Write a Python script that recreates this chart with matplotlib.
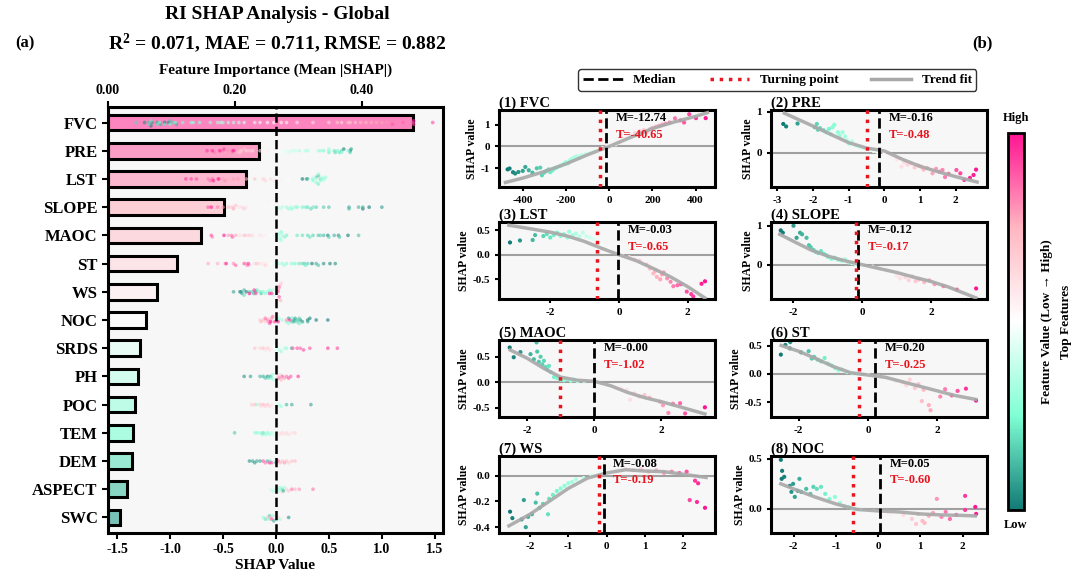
import numpy as np
import matplotlib
matplotlib.use('Agg')
import matplotlib.pyplot as plt
from matplotlib.colors import LinearSegmentedColormap, Normalize
from matplotlib.cm import ScalarMappable
from matplotlib.lines import Line2D

plt.rcParams['font.family'] = ['Liberation Serif', 'DejaVu Serif']
plt.rcParams['font.weight'] = 'bold'
plt.rcParams['axes.titleweight'] = 'bold'
plt.rcParams['axes.labelweight'] = 'bold'
plt.rcParams['axes.unicode_minus'] = False
plt.rcParams['mathtext.fontset'] = 'custom'
plt.rcParams['mathtext.bf'] = 'Liberation Serif:bold'
plt.rcParams['mathtext.rm'] = 'Liberation Serif:bold'
plt.rcParams['mathtext.default'] = 'bf'

# ---- data ----
features = ['FVC', 'PRE', 'LST', 'SLOPE', 'MAOC', 'ST', 'WS', 'NOC',
            'SRDS', 'PH', 'POC', 'TEM', 'DEM', 'ASPECT', 'SWC']
importance = [0.480, 0.238, 0.217, 0.183, 0.146, 0.109, 0.077, 0.060,
              0.050, 0.047, 0.042, 0.040, 0.038, 0.030, 0.019]

# dependence data for the top 8 features (feature value, SHAP value)
fvc_x = [-470, -461, -445, -435, -420, -400, -388, -372, -355, -335, -319, -311,
         -300, -290, -280, -273, -262, -250, -240, -225, -210, -200, -190, -180,
         -170, -160, -150, -140, -130, -110, -90, -70, -50, -30, -10, 10, 30, 50,
         80, 100, 120, 140, 150, 160, 175, 190, 200, 215, 230, 245, 260,
         280, 305, 330, 347, 371, 402, 447]
fvc_shap = [-1.05, -1.01, -1.18, -1.24, -1.17, -1.12, -0.94, -1.09, -1.20, -1.00, -0.97, -1.32,
            -1.20, -1.12, -1.05, -1.18, -1.10, -1.00, -0.95, -0.88, -0.80, -0.72, -0.78, -0.62,
            -0.55, -0.50, -0.45, -0.52, -0.40, -0.35, -0.30, -0.20, -0.15, -0.08, -0.02, 0.05, 0.10, 0.20,
            0.35, 0.50, 0.62, 0.70, 0.58, 0.75, 0.68, 0.80, 0.85, 0.90, 0.95, 1.00, 1.05,
            1.10, 1.29, 1.20, 1.10, 1.48, 1.30, 1.30]
fvc_trend_x = [-480, -400, -300, -200, -100, 0, 100, 200, 300, 400, 455]
fvc_trend_y = [-1.65, -1.45, -1.15, -0.80, -0.38, 0.0, 0.42, 0.82, 1.12, 1.38, 1.55]

pre_x = [-2.83, -2.75, -2.43, -1.95, -1.89, -1.86, -1.80, -1.70, -1.62, -1.55, -1.50, -1.45,
         -1.40, -1.30, -1.25, -1.17, -1.10, -1.05, -0.99, -0.90, -0.80, -0.70, -0.60, -0.50,
         -0.40, -0.30, -0.20, 0.00, 0.20, 0.35, 0.48, 0.55, 0.65, 0.75, 0.85, 0.95, 1.03,
         1.10, 1.20, 1.35, 1.45, 1.55, 1.63, 1.70, 1.80, 2.02, 2.13, 2.24, 2.40, 2.50, 2.57]
pre_shap = [0.70, 0.64, 0.71, 0.62, 0.70, 0.56, 0.60, 0.55, 0.50, 0.58, 0.45, 0.62,
            0.68, 0.50, 0.42, 0.50, 0.40, 0.30, 0.22, 0.28, 0.18, 0.15, 0.12, 0.10,
            0.08, 0.05, 0.03, 0.00, -0.08, -0.15, -0.33, -0.22, -0.28, -0.25, -0.35, -0.30, -0.33,
            -0.40, -0.36, -0.49, -0.38, -0.45, -0.41, -0.58, -0.50, -0.41, -0.49, -0.65, -0.60, -0.53, -0.40]
pre_trend_x = [-2.8, -2.0, -1.5, -1.0, -0.5, 0.0, 0.5, 1.0, 1.5, 2.0, 2.6]
pre_trend_y = [0.96, 0.65, 0.45, 0.25, 0.12, 0.05, -0.15, -0.32, -0.45, -0.57, -0.70]

lst_x = [-3.17, -2.88, -2.51, -2.44, -2.20, -2.10, -2.00, -1.90, -1.80, -1.70, -1.60, -1.50,
         -1.45, -1.35, -1.25, -1.15, -1.05, -0.95, -0.85, -0.75, -0.50, -0.30, -0.10, 0.10,
         0.30, 0.45, 0.60, 0.80, 0.90, 1.00, 1.05, 1.10, 1.20, 1.25, 1.30, 1.40, 1.50,
         1.58, 1.70, 1.80, 1.97, 2.10, 2.16, 2.40, 2.50]
lst_shap = [0.25, 0.29, 0.30, 0.40, 0.38, 0.42, 0.35, 0.40, 0.45, 0.38, 0.42, 0.35,
            0.47, 0.40, 0.43, 0.37, 0.45, 0.38, 0.35, 0.32, 0.20, 0.12, 0.05, -0.02,
            -0.05, -0.10, -0.12, -0.20, -0.28, -0.38, -0.33, -0.45, -0.50, -0.40, -0.36, -0.48, -0.55,
            -0.64, -0.62, -0.60, -0.75, -0.80, -0.85, -0.59, -0.54]
lst_trend_x = [-3.2, -2.5, -2.0, -1.5, -1.0, -0.5, 0.0, 0.5, 1.0, 1.5, 2.0, 2.5]
lst_trend_y = [0.60, 0.52, 0.46, 0.38, 0.27, 0.13, 0.0, -0.12, -0.28, -0.45, -0.65, -0.88]

slope_x = [-2.37, -2.31, -2.00, -1.91, -1.81, -1.75, -1.62, -1.55, -1.50, -1.42, -1.35, -1.28,
           -1.20, -1.12, -1.05, -1.00, -0.90, -0.80, -0.70, -0.60, -0.50, -0.40, -0.30, -0.20,
           0.00, 0.30, 0.60, 1.00, 1.10, 1.25, 1.35, 1.45, 1.55, 1.65, 1.80, 1.95, 2.10,
           2.36, 2.75, 3.31]
slope_shap = [0.88, 0.82, 1.00, 0.69, 0.82, 0.78, 0.69, 0.50, 0.45, 0.38, 0.33, 0.30,
              0.35, 0.28, 0.25, 0.20, 0.15, 0.18, 0.12, 0.10, 0.14, 0.06, 0.04, 0.02,
              0.00, -0.05, -0.10, -0.28, -0.35, -0.32, -0.40, -0.30, -0.42, -0.38, -0.45, -0.40, -0.50,
              -0.55, -0.64, -0.61]
slope_trend_x = [-2.4, -2.0, -1.5, -1.0, -0.5, 0.0, 0.5, 1.0, 1.5, 2.0, 2.5, 3.3]
slope_trend_y = [0.78, 0.60, 0.38, 0.22, 0.10, 0.0, -0.10, -0.20, -0.32, -0.43, -0.57, -0.85]

maoc_x = [-2.52, -2.40, -2.20, -1.90, -1.80, -1.72, -1.70, -1.65, -1.60, -1.55, -1.50, -1.45,
          -1.40, -1.35, -1.30, -1.20, -1.10, -1.00, -0.90, -0.80, -0.70, -0.60, -0.50, -0.30,
          0.00, 0.30, 0.60, 0.80, 0.97, 1.07, 1.20, 1.35, 1.50, 1.65, 1.96, 2.05, 2.21,
          2.35, 2.56, 2.71, 3.30]
maoc_shap = [0.68, 0.49, 0.59, 0.55, 0.45, 0.78, 0.60, 0.40, 0.50, 0.35, 0.42, 0.30,
             0.25, 0.32, 0.20, 0.10, 0.08, 0.05, 0.04, 0.06, 0.03, 0.05, 0.02, 0.02,
             0.00, -0.05, -0.10, -0.12, -0.15, -0.34, -0.22, -0.28, -0.25, -0.30, -0.38, -0.45, -0.60,
             -0.42, -0.41, -0.61, -0.49]
maoc_trend_x = [-2.5, -2.0, -1.5, -1.0, -0.5, 0.0, 0.5, 1.0, 1.5, 2.0, 2.5, 3.3]
maoc_trend_y = [0.63, 0.47, 0.27, 0.10, 0.04, 0.02, -0.07, -0.20, -0.30, -0.38, -0.47, -0.62]

st_x = [-2.51, -2.38, -2.25, -2.24, -1.93, -1.71, -1.62, -1.55, -1.45, -1.35, -1.25, -1.15,
        -1.05, -0.95, -0.85, -0.75, -0.60, -0.45, -0.30, 0.00, 0.30, 0.60, 0.80, 1.00,
        1.10, 1.20, 1.35, 1.45, 1.55, 1.60, 1.75, 1.80, 2.08, 2.22, 2.41, 2.58, 2.82, 3.11]
st_shap = [0.34, 0.51, 0.45, 0.56, 0.38, 0.40, 0.27, 0.30, 0.25, 0.22, 0.28, 0.18,
           0.15, 0.10, 0.06, 0.08, 0.03, 0.01, 0.00, -0.01, -0.05, -0.08, -0.12, -0.15,
           -0.20, -0.10, -0.25, -0.18, -0.48, -0.28, -0.55, -0.64, -0.40, -0.27, -0.38, -0.30, -0.26, -0.47]
st_trend_x = [-2.5, -2.0, -1.5, -1.0, -0.5, 0.0, 0.5, 1.0, 1.5, 2.0, 2.5, 3.1]
st_trend_y = [0.50, 0.40, 0.27, 0.13, 0.02, -0.02, -0.06, -0.14, -0.22, -0.30, -0.38, -0.45]

ws_x = [-2.52, -2.46, -2.22, -2.16, -2.11, -2.05, -1.95, -1.85, -1.81, -1.75, -1.66, -1.53,
        -1.50, -1.40, -1.30, -1.20, -1.10, -1.00, -0.90, -0.80, -0.60, -0.40, -0.20, 0.10,
        0.30, 0.50, 0.70, 0.90, 1.10, 1.30, 1.50, 1.70, 1.90, 2.09, 2.17, 2.31, 2.36, 2.39, 2.57]
ws_shap = [-0.28, -0.33, -0.34, -0.19, -0.40, -0.32, -0.30, -0.21, -0.14, -0.25, -0.22, -0.30,
           -0.18, -0.15, -0.12, -0.10, -0.08, -0.06, -0.05, -0.03, -0.02, 0.00, 0.02, 0.03,
           0.04, 0.05, 0.04, 0.05, 0.03, 0.04, 0.02, 0.03, 0.02, 0.03, -0.19, -0.04, -0.205, -0.06, -0.25]
ws_trend_x = [-2.55, -2.0, -1.5, -1.0, -0.5, 0.0, 0.5, 1.0, 1.5, 2.0, 2.6]
ws_trend_y = [-0.39, -0.30, -0.20, -0.10, -0.02, 0.02, 0.045, 0.035, 0.03, 0.01, -0.015]

noc_x = [-2.30, -2.27, -2.22, -2.28, -2.09, -2.05, -2.01, -1.97, -1.90, -1.86, -1.82, -1.70,
         -1.60, -1.53, -1.45, -1.35, -1.25, -1.15, -1.02, -0.90, -0.80, -0.70, -0.60, -0.40,
         -0.10, 0.30, 0.60, 0.80, 0.90, 0.95, 1.05, 1.10, 1.20, 1.30, 1.39, 1.50, 1.60, 1.70,
         1.85, 2.06, 2.06, 2.30, 2.32]
noc_shap = [0.49, 0.38, 0.32, 0.30, 0.23, 0.17, 0.25, 0.12, 0.18, 0.30, 0.17, 0.20,
            0.15, 0.22, 0.20, 0.22, 0.15, 0.10, 0.12, 0.06, 0.03, 0.02, 0.00, -0.01,
            -0.02, -0.04, -0.06, -0.10, -0.15, -0.05, -0.12, -0.14, -0.07, -0.04, 0.10, -0.08, -0.03, -0.10,
            -0.06, 0.13, -0.01, 0.02, -0.05]
noc_trend_x = [-2.3, -2.0, -1.5, -1.0, -0.5, 0.0, 0.5, 1.0, 1.5, 2.0, 2.3]
noc_trend_y = [0.25, 0.20, 0.12, 0.05, -0.005, -0.02, -0.03, -0.05, -0.06, -0.065, -0.07]

medians = [-12.74, -0.16, -0.03, -0.12, -0.00, 0.20, -0.08, 0.05]
turning = [-40.65, -0.48, -0.65, -0.17, -1.02, -0.25, -0.19, -0.60]

# remaining features: SHAP values and scaled feature values (0 = low, 1 = high)
srds_shap = [-0.20, -0.15, -0.12, -0.10, -0.08, -0.06, -0.05, -0.03, -0.02, -0.01, 0.00, 0.01,
             0.02, 0.03, 0.04, 0.05, 0.08, 0.10, 0.15, 0.16, 0.20, 0.23, 0.26, 0.32, 0.49, 0.58]
srds_val = [0.70, 0.65, 0.72, 0.60, 0.68, 0.62, 0.58, 0.55, 0.50, 0.50, 0.45, 0.40,
            0.48, 0.35, 0.45, 0.30, 0.35, 0.28, 0.08, 0.85, 0.90, 0.88, 0.92, 0.90, 0.95, 0.92]
ph_shap = [-0.30, -0.24, -0.15, -0.12, -0.10, -0.08, -0.07, -0.05, -0.04, -0.03, -0.02, -0.01,
           0.00, 0.01, 0.02, 0.03, 0.04, 0.05, 0.06, 0.08, 0.10, 0.12, 0.14, 0.21]
ph_val = [0.05, 0.08, 0.12, 0.10, 0.15, 0.05, 0.20, 0.10, 0.25, 0.30, 0.35, 0.50,
          0.45, 0.55, 0.70, 0.85, 0.65, 0.75, 0.90, 0.80, 0.85, 0.90, 0.88, 0.95]
poc_shap = [-0.23, -0.20, -0.18, -0.15, -0.14, -0.12, -0.10, -0.08, -0.06, -0.04, -0.02,
            0.00, 0.01, 0.03, 0.05, 0.10, 0.15, 0.33]
poc_val = [0.68, 0.72, 0.30, 0.70, 0.62, 0.75, 0.66, 0.70, 0.65, 0.60, 0.55,
           0.45, 0.40, 0.35, 0.30, 0.12, 0.10, 0.08]
tem_shap = [-0.39, -0.20, -0.18, -0.15, -0.13, -0.12, -0.10, -0.08, -0.06, -0.04, -0.02,
            0.00, 0.02, 0.04, 0.06, 0.08, 0.10, 0.12, 0.15, 0.18]
tem_val = [0.15, 0.30, 0.25, 0.30, 0.28, 0.20, 0.30, 0.25, 0.32, 0.35, 0.40,
           0.50, 0.58, 0.62, 0.65, 0.60, 0.64, 0.62, 0.60, 0.65]
dem_shap = [-0.25, -0.22, -0.20, -0.18, -0.15, -0.12, -0.10, -0.08, -0.06, -0.05, -0.04, -0.03,
            -0.01, 0.00, 0.01, 0.02, 0.04, 0.06, 0.08, 0.10, 0.12, 0.15, 0.18]
dem_val = [0.05, 0.08, 0.06, 0.10, 0.08, 0.90, 0.85, 0.12, 0.95, 0.20, 0.90, 0.50,
           0.40, 0.10, 0.55, 0.90, 0.75, 0.70, 0.80, 0.72, 0.68, 0.70, 0.72]
aspect_shap = [-0.05, -0.03, -0.02, -0.01, 0.00, 0.01, 0.02, 0.03, 0.04, 0.05, 0.06, 0.07,
               0.08, 0.10, 0.12, 0.15, 0.18, 0.22, 0.35]
aspect_val = [0.40, 0.35, 0.45, 0.55, 0.30, 0.50, 0.25, 0.35, 0.28, 0.60, 0.20, 0.10,
              0.30, 0.65, 0.70, 0.85, 0.75, 0.80, 0.85]
swc_shap = [-0.12, -0.10, -0.08, -0.07, -0.06, -0.05, -0.04, -0.03, -0.02, 0.00, 0.01, 0.02,
            0.04, 0.06, 0.12]
swc_val = [0.30, 0.20, 0.70, 0.25, 0.15, 0.75, 0.90, 0.30, 0.10, 0.60, 0.40, 0.65,
           0.30, 0.55, 0.05]

top_x = [fvc_x, pre_x, lst_x, slope_x, maoc_x, st_x, ws_x, noc_x]
top_shap = [fvc_shap, pre_shap, lst_shap, slope_shap, maoc_shap, st_shap, ws_shap, noc_shap]
top_trend = [(fvc_trend_x, fvc_trend_y), (pre_trend_x, pre_trend_y), (lst_trend_x, lst_trend_y),
             (slope_trend_x, slope_trend_y), (maoc_trend_x, maoc_trend_y), (st_trend_x, st_trend_y),
             (ws_trend_x, ws_trend_y), (noc_trend_x, noc_trend_y)]
rest_shap = [srds_shap, ph_shap, poc_shap, tem_shap, dem_shap, aspect_shap, swc_shap]
rest_val = [srds_val, ph_val, poc_val, tem_val, dem_val, aspect_val, swc_val]

# subplot axis settings
dep_xlim = [(-510, 490), (-3.17, 2.88), (-3.49, 2.79), (-2.65, 3.63),
            (-2.84, 3.60), (-2.79, 3.43), (-2.81, 2.83), (-2.53, 2.58)]
dep_ylim = [(-1.86, 1.68), (-0.82, 1.04), (-0.90, 0.67), (-0.88, 1.10),
            (-0.68, 0.83), (-0.76, 0.60), (-0.445, 0.153), (-0.24, 0.53)]
dep_xticks = [[-400, -200, 0, 200, 400], [-3, -2, -1, 0, 1, 2], [-2, 0, 2], [-2, 0, 2],
              [-2, 0, 2], [-2, 0, 2], [-2, -1, 0, 1, 2], [-2, -1, 0, 1, 2]]
dep_yticks = [[-1, 0, 1], [0, 1], [-0.5, 0.0, 0.5], [0, 1],
              [-0.5, 0.0, 0.5], [-0.5, 0.0, 0.5], [-0.4, -0.2, 0.0], [0.0, 0.5]]

cmap = LinearSegmentedColormap.from_list(
    'tealpink', ['#117a75', '#7fffd4', '#ffffff', '#ffb6c1', '#ff1493'])


def swarm_offsets(vals, bin_w=0.035, step=0.06, cap=0.33):
    vals = np.asarray(vals, dtype=float)
    bins = np.round(vals / bin_w).astype(int)
    offs = np.zeros(len(vals))
    counts = {}
    for i in np.argsort(vals):
        n = counts.get(bins[i], 0)
        counts[bins[i]] = n + 1
        k = (n + 1) // 2
        sign = 1 if n % 2 else -1
        offs[i] = min(k * step, cap) * sign
    return offs


fig = plt.figure(figsize=(10.8, 5.76), dpi=100)

# ---- (a) importance bars + beeswarm ----
ax = fig.add_axes([0.100, 0.0747, 0.310, 0.7395])
axt = ax.twiny()
ypos = np.arange(len(features))
bar_cols = cmap(np.linspace(0.92, 0.08, len(features)))
bar_cols[:, 3] = 0.65
axt.barh(ypos, importance, height=0.55, color=bar_cols, edgecolor='black', linewidth=2.2)
axt.set_xlim(0, 0.5276)
axt.set_xticks([0.0, 0.2, 0.4])
axt.set_xticklabels(['%.2f' % t for t in [0.0, 0.2, 0.4]], fontsize=10)
axt.set_xlabel('Feature Importance (Mean |SHAP|)', fontsize=11, labelpad=7)
axt.set_facecolor('#f7f7f7')
axt.patch.set_visible(True)
ax.set_zorder(axt.get_zorder() + 1)
ax.patch.set_visible(False)

all_shap = top_shap + rest_shap
all_val = [Normalize(min(x), max(x))(np.array(x)) for x in top_x] + [np.array(v) for v in rest_val]
for i in range(len(features)):
    s = np.array(all_shap[i])
    ax.scatter(s, i + swarm_offsets(s), c=all_val[i], cmap=cmap, vmin=0, vmax=1,
               s=7, alpha=0.6, linewidths=0, zorder=2)
ax.axvline(0, color='black', ls='--', lw=1.8, zorder=3)
ax.set_xlim(-1.585, 1.575)
ax.set_ylim(14.55, -0.55)
ax.set_yticks(ypos)
ax.set_yticklabels(features, fontsize=12)
ax.set_xticks(np.arange(-1.5, 1.6, 0.5))
ax.set_xticklabels(['%.1f' % t for t in np.arange(-1.5, 1.6, 0.5)], fontsize=10)
ax.set_xlabel('SHAP Value', fontsize=11, labelpad=2)
for sp in ax.spines.values():
    sp.set_linewidth(2.2)
for sp in axt.spines.values():
    sp.set_visible(False)
ax.tick_params(width=1.5, length=4)
axt.tick_params(width=1.5, length=4)

# ---- (b) dependence plots ----
lefts = [0.462, 0.714]
bottoms = [0.6753, 0.4809, 0.2760, 0.0747]
for k in range(8):
    r, c = divmod(k, 2)
    a = fig.add_axes([lefts[c], bottoms[r], 0.200, 0.134])
    x = np.array(top_x[k])
    y = np.array(top_shap[k])
    a.set_facecolor('#f7f7f7')
    a.axhline(0, color='#a0a0a0', lw=1.5, zorder=1)
    a.scatter(x, y, c=x, cmap=cmap, norm=Normalize(x.min(), x.max()), s=9,
              linewidths=0, zorder=2)
    a.plot(top_trend[k][0], top_trend[k][1], color='#a8a8a8', lw=2.5, alpha=0.9, zorder=3)
    a.axvline(medians[k], color='black', ls='--', lw=2, zorder=4)
    a.axvline(turning[k], color='#e8141e', ls=':', lw=2.5, zorder=4)
    a.annotate(f'M={medians[k]:.2f}', xy=(medians[k], 0.89), xycoords=('data', 'axes fraction'),
               xytext=(7, 0), textcoords='offset points', va='center', fontsize=9, zorder=5)
    a.annotate(f'T={turning[k]:.2f}', xy=(medians[k], 0.68), xycoords=('data', 'axes fraction'),
               xytext=(7, 0), textcoords='offset points', va='center', fontsize=9,
               color='#e8141e', zorder=5)
    a.set_xlim(dep_xlim[k])
    a.set_ylim(dep_ylim[k])
    a.set_xticks(dep_xticks[k])
    a.set_yticks(dep_yticks[k])
    a.tick_params(labelsize=8, width=1.5, length=3)
    a.set_ylabel('SHAP value', fontsize=8.5, labelpad=2)
    a.set_title(f'({k + 1}) {features[k]}', loc='left', fontsize=10.5, pad=1.5)
    for sp in a.spines.values():
        sp.set_linewidth(2.2)

# legend for the dependence plots
handles = [Line2D([], [], color='black', ls='--', lw=2),
           Line2D([], [], color='#e8141e', ls=':', lw=2.5),
           Line2D([], [], color='#a8a8a8', lw=2.5)]
leg = fig.legend(handles, ['Median', 'Turning point', 'Trend fit'], loc='center',
                 bbox_to_anchor=(0.7197, 0.861), ncol=3, fontsize=9.5, frameon=True,
                 fancybox=True, edgecolor='black', handlelength=3, columnspacing=2.5,
                 borderpad=0.35)
leg.get_frame().set_linewidth(1.0)

# colorbar
cax = fig.add_axes([0.9333, 0.1146, 0.0148, 0.6545])
cb = fig.colorbar(ScalarMappable(norm=Normalize(0, 1), cmap=cmap), cax=cax)
cb.set_ticks([])
cb.outline.set_linewidth(2)
cax.text(0.5, 1.025, 'High', transform=cax.transAxes, ha='center', va='bottom', fontsize=9)
cax.text(0.5, -0.025, 'Low', transform=cax.transAxes, ha='center', va='top', fontsize=9)
cb.set_label('Feature Value (Low \u2192 High)\nTop Features', fontsize=9.5, labelpad=12,
             linespacing=1.8)

# titles and panel letters
fig.text(0.2565, 0.974, 'RI SHAP Analysis - Global', ha='center', va='center', fontsize=14)
fig.text(0.2565, 0.925, 'R$^2$ = 0.071, MAE = 0.711, RMSE = 0.882', ha='center',
         va='center', fontsize=14)
fig.text(0.014, 0.925, '(a)', ha='left', va='center', fontsize=12)
fig.text(0.91, 0.925, '(b)', ha='center', va='center', fontsize=12)

fig.savefig('out.png', dpi=100)
